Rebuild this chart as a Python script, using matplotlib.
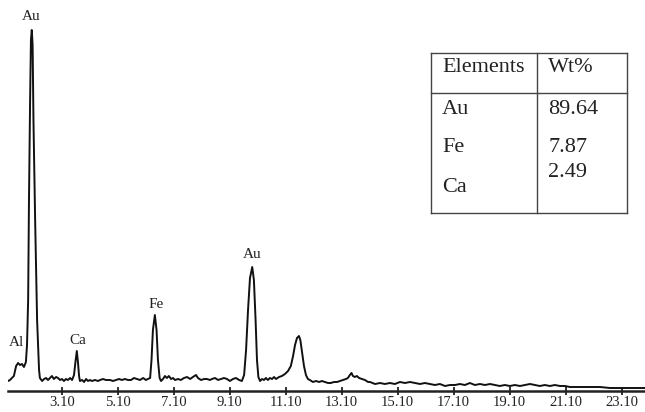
import numpy as np
import matplotlib
matplotlib.use("Agg")
import matplotlib.pyplot as plt

# Spectre EDS (energie en keV, intensite en unites arbitraires)
energy = [1.17, 1.24, 1.31, 1.38, 1.46, 1.53, 1.60, 1.67, 1.74, 1.81, 1.85, 1.89,
          1.92, 1.96, 1.99, 2.02, 2.05, 2.08, 2.14, 2.21, 2.28, 2.31, 2.39, 2.46,
          2.53, 2.60, 2.67, 2.74, 2.81, 2.89, 2.96, 3.03, 3.10, 3.17, 3.24, 3.31,
          3.39, 3.46, 3.53, 3.58, 3.63, 3.67, 3.71, 3.74, 3.82, 3.89, 3.96, 4.03,
          4.10, 4.17, 4.28, 4.39, 4.46, 4.57, 4.67, 4.82, 4.92, 5.03, 5.14, 5.24,
          5.35, 5.46, 5.57, 5.67, 5.78, 5.89, 6.00, 6.10, 6.17, 6.25, 6.30, 6.35,
          6.42, 6.48, 6.53, 6.59, 6.64, 6.71, 6.78, 6.85, 6.92, 7.00, 7.07, 7.14,
          7.25, 7.35, 7.46, 7.57, 7.68, 7.78, 7.89, 7.96, 8.07, 8.18, 8.28, 8.39,
          8.46, 8.57, 8.68, 8.78, 8.89, 9.00, 9.10, 9.21, 9.32, 9.43, 9.53, 9.61,
          9.68, 9.75, 9.82, 9.90, 9.96, 10.02, 10.07, 10.12, 10.18, 10.25, 10.32,
          10.39, 10.46, 10.53, 10.61, 10.68, 10.75, 10.86, 10.96, 11.07, 11.18,
          11.28, 11.36, 11.43, 11.50, 11.57, 11.62, 11.68, 11.75, 11.82, 11.89,
          11.96, 12.07, 12.18, 12.29, 12.39, 12.50, 12.61, 12.71, 12.82, 12.93,
          13.04, 13.14, 13.25, 13.32, 13.39, 13.45, 13.50, 13.57, 13.64, 13.72,
          13.82, 13.93, 14.04, 14.11, 14.29, 14.47, 14.64, 14.82, 15.00, 15.18,
          15.36, 15.54, 15.72, 15.90, 16.07, 16.25, 16.43, 16.61, 16.79, 16.97,
          17.15, 17.32, 17.50, 17.68, 17.86, 18.04, 18.22, 18.40, 18.58, 18.75,
          18.93, 19.11, 19.29, 19.47, 19.65, 19.83, 20.01, 20.18, 20.36, 20.54,
          20.72, 20.90, 21.08, 21.26, 21.61, 21.97, 22.33, 22.69, 23.04, 23.40,
          23.94]
counts = [12, 13, 15, 17, 27, 30, 28, 29, 26, 31, 48, 93,
          193, 293, 353, 363, 348, 273, 173, 73, 23, 15, 12, 14,
          15, 13, 15, 17, 14, 16, 15, 13, 14, 12, 14, 13,
          15, 13, 18, 31, 42, 31, 17, 12, 13, 11, 14, 12,
          13, 12, 13, 12, 13, 14, 13, 13, 12, 13, 14, 13,
          14, 13, 13, 15, 14, 13, 15, 13, 14, 15, 33, 63,
          78, 63, 33, 15, 12, 14, 17, 15, 17, 14, 15, 13,
          14, 13, 15, 16, 14, 16, 18, 15, 13, 14, 14, 13,
          14, 15, 13, 14, 15, 14, 12, 14, 15, 13, 12, 18,
          43, 83, 115, 126, 113, 73, 33, 16, 12, 14, 13,
          15, 13, 15, 14, 16, 14, 16, 17, 19, 22,
          27, 37, 48, 55, 57, 53, 41, 27, 18, 14,
          13, 11, 12, 11, 12, 11, 10, 10, 11, 11,
          12, 13, 14, 15, 18, 20, 17, 16, 17, 15,
          14, 13, 11, 11, 9, 10, 9, 10, 9, 11,
          10, 11, 10, 9, 10, 9, 8, 9, 7, 8,
          8, 9, 8, 10, 8, 9, 8, 9, 8, 7,
          8, 7, 8, 7, 8, 9, 8, 7, 8, 7,
          8, 7, 7, 6, 6, 6, 6, 5, 5, 5,
          5]

# Etiquettes des pics
peak_names = ["Al", "Au", "Ca", "Fe", "Au"]
peak_x = [1.46, 1.99, 3.67, 6.46, 9.89]
peak_y = [51, 376, 53, 89, 139]

# Tableau des compositions
elements = ["Au", "Fe", "Ca"]
wt_pct = ["89.64", "7.87", "2.49"]

plt.rcParams["font.family"] = ["Liberation Serif", "DejaVu Serif"]

fig = plt.figure(figsize=(6.45, 4.12), dpi=100)
ax = fig.add_axes([8 / 645, 21 / 412, 637 / 645, 391 / 412])

ax.plot(energy, counts, color="#111111", lw=1.4)

for name, x, y in zip(peak_names, peak_x, peak_y):
    ax.text(x, y, name, ha="center", va="center", fontsize=11, color="#222222")

ax.set_xlim(1.17, 23.94)
ax.set_ylim(2, 393)
ax.set_xticks(np.arange(3.1, 23.2, 2.0))
ax.set_xticklabels([f"{t:.2f}" for t in np.arange(3.1, 23.2, 2.0)])
ax.set_yticks([])
for side in ["left", "right", "top"]:
    ax.spines[side].set_visible(False)
ax.spines["bottom"].set_linewidth(1.8)
ax.spines["bottom"].set_color("#222222")
ax.tick_params(axis="x", direction="inout", length=6, width=1.3,
               color="#222222", labelsize=10.5, pad=0.5, labelcolor="#222222")

# Tableau en haut a droite (coordonnees en pixels de la figure)
W, H = 645, 412
def fx(p):
    return p / W
def fy(p):
    return 1 - p / H

left, right, top, bottom, mid, hline = 431, 627, 53, 213, 537, 93
lc = "#444444"
for xs, ys in [((left, right), (top, top)), ((left, right), (bottom, bottom)),
               ((left, left), (top, bottom)), ((right, right), (top, bottom)),
               ((mid, mid), (top, bottom)), ((left, right), (hline, hline))]:
    fig.add_artist(plt.Line2D([fx(xs[0]), fx(xs[1])], [fy(ys[0]), fy(ys[1])],
                              transform=fig.transFigure, color=lc, lw=1.0))

fs = 16
fig.text(fx(442), fy(68), "Elements", ha="left", va="center", fontsize=fs, color="#222222")
fig.text(fx(548), fy(68), "Wt%", ha="left", va="center", fontsize=fs, color="#222222")
name_rows = [110, 148, 187]
val_rows = [110, 148, 173]
for el, r in zip(elements, name_rows):
    fig.text(fx(442), fy(r), el, ha="left", va="center", fontsize=fs, color="#222222")
for v, r in zip(wt_pct, val_rows):
    fig.text(fx(548), fy(r), v, ha="left", va="center", fontsize=fs, color="#222222")

fig.savefig("out.png", dpi=100)
